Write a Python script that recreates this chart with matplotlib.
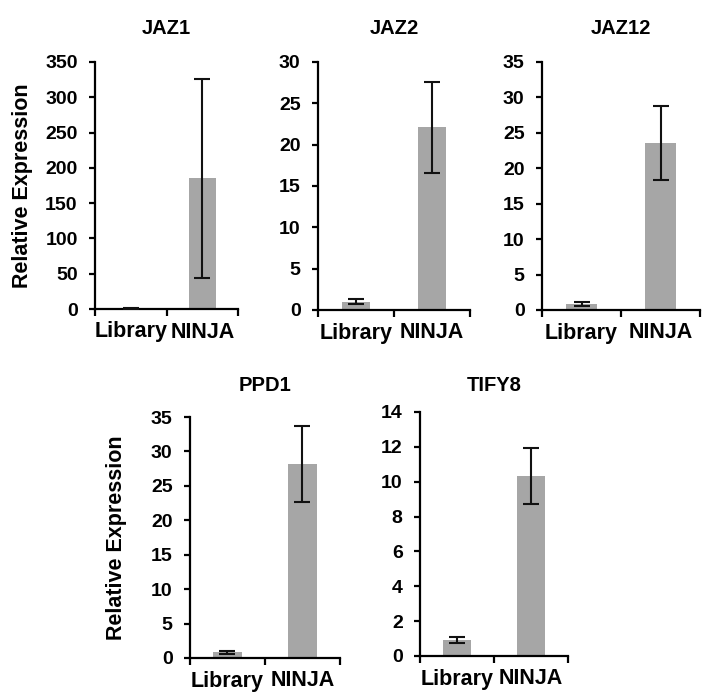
import numpy as np
import matplotlib.pyplot as plt

plt.rcParams['font.family'] = ['Liberation Sans', 'DejaVu Sans']
plt.rcParams['font.weight'] = 'bold'

groups = ['Library', 'NINJA']
genes = ['JAZ1', 'JAZ2', 'JAZ12', 'PPD1', 'TIFY8']
means = {
    'JAZ1': [1.0, 185.0],
    'JAZ2': [1.0, 22.1],
    'JAZ12': [0.8, 23.6],
    'PPD1': [0.8, 28.2],
    'TIFY8': [0.92, 10.35],
}
errors = {
    'JAZ1': [0.4, 141.0],
    'JAZ2': [0.3, 5.5],
    'JAZ12': [0.3, 5.2],
    'PPD1': [0.2, 5.5],
    'TIFY8': [0.18, 1.6],
}
ymax = {'JAZ1': 350, 'JAZ2': 30, 'JAZ12': 35, 'PPD1': 35, 'TIFY8': 14}
ystep = {'JAZ1': 50, 'JAZ2': 5, 'JAZ12': 5, 'PPD1': 5, 'TIFY8': 2}

# panel boxes in pixels: left, right, top, bottom
W, H = 706, 693
boxes = {
    'JAZ1': (95, 238, 62, 309),
    'JAZ2': (318, 470, 62, 310),
    'JAZ12': (542, 700, 62, 310),
    'PPD1': (190, 340, 417, 658),
    'TIFY8': (420, 568, 412, 656),
}
label_pad = {'JAZ1': 9, 'PPD1': 17}
title_pad = {'JAZ1': 20, 'JAZ2': 20, 'JAZ12': 20, 'PPD1': 19, 'TIFY8': 15}

fig = plt.figure(figsize=(W / 100, H / 100), dpi=100)

for g in genes:
    l, r, t, b = boxes[g]
    ax = fig.add_axes([l / W, 1 - b / H, (r - l) / W, (b - t) / H])
    x = np.arange(len(groups)) + 0.5
    ax.bar(x, means[g], width=0.38, color='#a6a6a6', zorder=2)
    ax.errorbar(x, means[g], yerr=errors[g], fmt='none', ecolor='#111111',
                elinewidth=1.5, capsize=6, capthick=1.5, zorder=3)
    ax.set_xlim(0, 2)
    ax.set_ylim(0, ymax[g])
    ax.set_yticks(np.arange(0, ymax[g] + 0.01, ystep[g]))
    ax.set_xticks([0, 1, 2])
    ax.set_xticklabels([])
    ax.set_xticks(x, minor=True)
    ax.set_xticklabels(groups, minor=True, fontsize=15.5, fontweight='bold')
    ax.tick_params(axis='x', which='minor', length=0, pad=9)
    ax.tick_params(axis='x', which='major', length=5, width=1.6, direction='out')
    ax.tick_params(axis='y', length=4.5, width=1.6, direction='out', labelsize=14, pad=8)
    for lab in ax.get_yticklabels():
        lab.set_fontweight('bold')
    ax.spines['top'].set_visible(False)
    ax.spines['right'].set_visible(False)
    ax.spines['left'].set_linewidth(1.6)
    ax.spines['bottom'].set_linewidth(1.6)
    ax.set_title(g, fontsize=14.5, fontweight='bold', pad=title_pad[g])
    if g in label_pad:
        ax.set_ylabel('Relative Expression', fontsize=15.5, fontweight='bold',
                      labelpad=label_pad[g])

fig.savefig('out.png', dpi=100)
